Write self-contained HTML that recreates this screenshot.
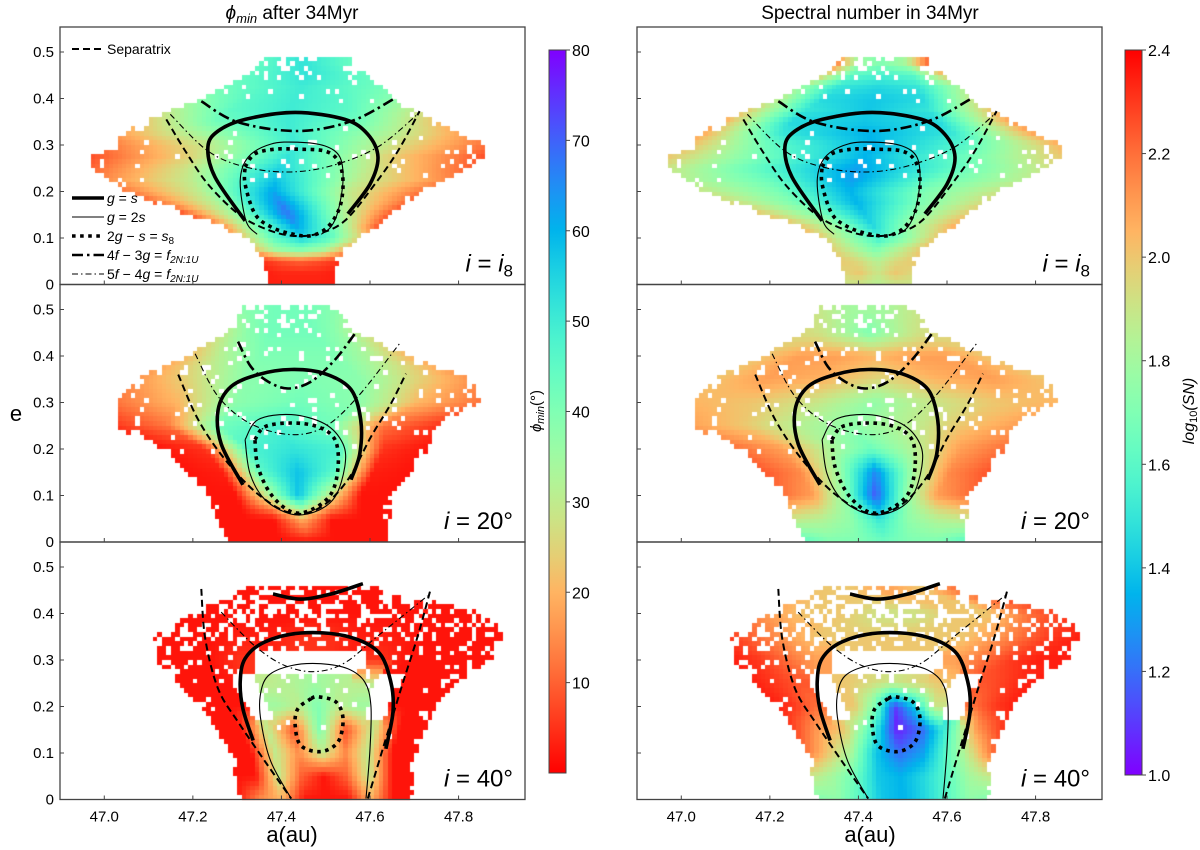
<!DOCTYPE html>
<html><head><meta charset="utf-8">
<style>
html,body{margin:0;padding:0;background:#fff;}
#wrap{position:relative;width:1200px;height:850px;overflow:hidden;font-family:"Liberation Sans","DejaVu Sans",sans-serif;}
#heat{position:absolute;left:0;top:0;}
#ov{position:absolute;left:0;top:0;}
</style></head>
<body>
<div id="wrap">
<canvas id="heat" width="1200" height="850"></canvas>
<svg id="ov" width="1200" height="850" xmlns="http://www.w3.org/2000/svg"></svg>
</div>
<script>
// ---------- data: envelopes (e rows, aMin, aMax) ----------
const eTop = [0,0.025,0.05,0.075,0.1,0.125,0.15,0.175,0.2,0.225,0.25,0.275,0.3,0.325,0.35,0.375,0.4,0.425,0.45,0.475];
const aMinTop = [47.362,47.362,47.357,47.333,47.318,47.251,47.183,47.110,47.047,47.005,46.970,46.970,47.008,47.040,47.083,47.146,47.212,47.263,47.318,47.345];
const aMaxTop = [47.523,47.523,47.527,47.544,47.577,47.615,47.647,47.685,47.714,47.767,47.821,47.861,47.858,47.802,47.746,47.697,47.656,47.626,47.595,47.556];
const densTop = [1,1,1,1,1,1,1,1,1,0.95,0.9,0.85,0.9,0.95,1,1,0.95,0.85,0.65,0.35];
const phiTop = [[3,3,3,3,3],[3,4,4,4,3],[5,8,10,8,5],[20,35,40,35,20],[25,45,55,45,25],[10,40,62,40,10],[8,35,68,35,8],[10,32,66,32,10],[12,30,62,30,12],[15,30,58,30,15],[10,28,55,28,10],[8,25,52,25,8],[12,28,50,28,12],[18,35,50,35,18],[22,42,50,42,22],[30,45,50,45,30],[38,46,50,46,38],[42,46,50,46,42],[44,48,52,48,44],[44,48,52,48,44]];
const snTop = [[1.9,1.9,1.85,1.9,1.9],[1.95,2.0,1.9,2.0,1.95],[2.0,1.95,1.85,1.95,2.0],[2.0,1.85,1.7,1.85,2.0],[2.0,1.75,1.55,1.75,2.0],[2.05,1.8,1.45,1.8,2.05],[2.0,1.75,1.4,1.75,2.0],[1.95,1.7,1.35,1.7,1.95],[1.9,1.7,1.35,1.7,1.9],[1.85,1.65,1.3,1.65,1.85],[1.9,1.6,1.3,1.6,1.9],[2.0,1.65,1.35,1.65,2.0],[2.05,1.6,1.35,1.6,2.05],[2.1,1.5,1.35,1.5,2.1],[2.1,1.45,1.4,1.45,2.1],[2.0,1.5,1.4,1.5,2.0],[1.9,1.45,1.4,1.45,1.9],[1.8,1.5,1.45,1.5,1.8],[2.0,1.6,1.55,1.6,2.0],[2.2,1.8,1.7,1.8,2.2]];

const eMid = [0,0.05,0.1,0.15,0.2,0.25,0.3,0.35,0.4,0.45,0.5];
const aMinMid = [47.273,47.250,47.228,47.183,47.128,47.016,47.025,47.061,47.183,47.273,47.307];
const aMaxMid = [47.640,47.645,47.647,47.692,47.730,47.753,47.848,47.836,47.690,47.573,47.532];
const densMid = [1,1,1,1,0.97,0.8,0.8,0.85,0.85,0.7,0.3];
const phiMid = [[2,2,2,2,2,2,2],[2,2,2,20,2,2,2],[2,2,30,58,30,2,2],[2,3,45,58,45,3,2],[2,5,48,52,48,5,2],[5,12,42,48,42,12,5],[12,20,38,42,38,20,12],[15,25,38,40,38,25,15],[20,32,40,40,40,32,20],[30,38,42,42,42,38,30],[38,40,42,42,42,40,38]];
const snMid = [[1.6,1.7,1.7,1.65,1.7,1.7,1.6],[1.9,1.85,1.75,1.5,1.75,1.85,1.9],[2.2,2.1,1.75,1.15,1.75,2.1,2.2],[2.25,2.15,1.8,1.25,1.8,2.15,2.25],[2.2,2.1,1.85,1.65,1.85,2.1,2.2],[2.1,2.0,1.85,1.75,1.85,2.0,2.1],[2.05,2.0,1.9,1.75,1.9,2.0,2.05],[2.0,2.1,2.05,1.95,2.05,2.1,2.0],[2.0,2.1,2.1,2.05,2.1,2.1,2.0],[1.95,1.9,1.8,1.7,1.8,1.9,1.95],[1.9,1.85,1.8,1.8,1.8,1.85,1.9]];

const eBot = [0,0.05,0.1,0.15,0.2,0.25,0.3,0.35,0.4,0.45];
const aMinBot = [47.302,47.291,47.280,47.250,47.212,47.160,47.115,47.106,47.196,47.307];
const aMaxBot = [47.701,47.701,47.703,47.724,47.753,47.791,47.872,47.904,47.872,47.622];
const densBot = [1,1,1,0.97,0.92,0.85,0.7,0.55,0.35,0.2];
const phiBot = [[2,15,20,2,2,2,20,2,2],[2,2,30,10,2,10,30,2,2],[2,2,30,15,30,15,30,2,2],[2,2,30,8,40,8,30,2,2],[2,2,2,-1,35,30,40,30,35,-1,2,2,2],[2,2,2,-1,30,32,35,32,30,-1,2,2,2],[2,2,2,5,-1,-1,-1,-1,5,2,2,2,2],[2,2,2,3,3,5,5,3,3,2,2,2,2],[2,2,2,2,2,2,2,2,2],[2,2,2,2,2]];
const snBot = [[1.7,1.75,1.6,1.4,1.35,1.45,1.6,1.75,1.7],[1.9,1.8,1.65,1.4,1.35,1.45,1.6,1.8,1.9],[2.2,2.0,1.8,1.4,1.2,1.3,1.6,1.9,2.2],[2.3,2.1,2.0,1.6,1.05,1.2,1.6,2.1,2.3],[2.35,2.3,2.2,-1,2.0,1.7,1.1,1.4,1.9,-1,2.2,2.3,2.35],[2.35,2.3,2.25,-1,2.0,1.95,1.9,1.95,2.0,-1,2.25,2.3,2.35],[2.35,2.3,2.2,2.1,-1,-1,-1,-1,2.1,2.2,2.3,2.35,2.35],[2.3,2.2,2.1,2.0,2.0,2.0,2.0,2.0,2.0,2.1,2.2,2.3,2.35],[2.1,2.0,2.0,1.9,1.9,2.0,2.0,2.2,2.3],[2.0,2.0,2.1,2.0,2.2]];

// ---------- data: resonance curves ----------
const topGsA=[47.318,47.250,47.234,47.257,47.318,47.431,47.543,47.595,47.618,47.600,47.550];
const topGsE=[0.137,0.231,0.296,0.330,0.355,0.370,0.355,0.323,0.274,0.216,0.152];
const topG2sA=[47.345,47.320,47.307,47.325,47.376,47.437,47.498,47.532,47.539,47.528,47.512,47.490];
const topG2sE=[0.108,0.137,0.223,0.274,0.302,0.306,0.298,0.274,0.223,0.158,0.124,0.108];
const topDotA=[47.318,47.340,47.385,47.437,47.498,47.528,47.539,47.532,47.505,47.467,47.422,47.376,47.340,47.318,47.318];
const topDotE=[0.253,0.281,0.291,0.291,0.287,0.266,0.223,0.167,0.124,0.105,0.109,0.124,0.152,0.216,0.253];
const topSepA=[47.140,47.183,47.234,47.302,47.363,47.422,47.482,47.543,47.611,47.663,47.712];
const topSepE=[0.355,0.287,0.216,0.152,0.120,0.105,0.109,0.137,0.216,0.287,0.373];
const top4fA=[47.219,47.302,47.437,47.557,47.652];
const top4fE=[0.394,0.349,0.330,0.351,0.398];
const top5fA=[47.149,47.234,47.318,47.415,47.512,47.618,47.712];
const top5fE=[0.366,0.287,0.253,0.242,0.255,0.296,0.370];

const midGsA=[47.313,47.264,47.257,47.286,47.347,47.422,47.498,47.557,47.579,47.577,47.557];
const midGsE=[0.123,0.211,0.284,0.334,0.360,0.371,0.362,0.328,0.263,0.190,0.134];
const midG2sA=[47.318,47.347,47.422,47.498,47.539,47.543,47.521,47.476,47.422,47.363,47.329,47.318];
const midG2sE=[0.220,0.263,0.274,0.254,0.211,0.162,0.097,0.065,0.060,0.091,0.147,0.220];
const midDotA=[47.340,47.363,47.422,47.482,47.521,47.528,47.512,47.467,47.422,47.376,47.347,47.340];
const midDotE=[0.220,0.248,0.256,0.248,0.220,0.162,0.103,0.069,0.065,0.103,0.162,0.220];
const midSepA=[47.167,47.212,47.273,47.347,47.422,47.489,47.550,47.602,47.647,47.681];
const midSepE=[0.360,0.263,0.177,0.103,0.062,0.075,0.134,0.226,0.297,0.362];
const mid4fA=[47.302,47.331,47.370,47.415,47.467,47.521,47.566];
const mid4fE=[0.431,0.377,0.345,0.330,0.345,0.392,0.448];
const mid5fA=[47.205,47.257,47.331,47.422,47.498,47.573,47.667];
const mid5fE=[0.405,0.313,0.254,0.231,0.248,0.313,0.427];

const botArcA=[47.381,47.444,47.512,47.584];
const botArcE=[0.442,0.431,0.442,0.464];
const botGsA=[47.336,47.313,47.307,47.318,47.363,47.444,47.543,47.618,47.647,47.652,47.636];
const botGsE=[0.127,0.195,0.253,0.303,0.339,0.358,0.352,0.318,0.253,0.189,0.109];
const botG2sA=[47.422,47.376,47.354,47.352,47.370,47.422,47.489,47.550,47.588,47.602,47.600,47.591];
const botG2sE=[0.002,0.082,0.167,0.223,0.266,0.288,0.292,0.281,0.253,0.202,0.109,0.002];
const botDotA=[47.467,47.437,47.431,47.444,47.489,47.528,47.539,47.523,47.482,47.467];
const botDotE=[0.217,0.195,0.159,0.116,0.103,0.124,0.174,0.210,0.221,0.217];
const botSepLA=[47.219,47.228,47.257,47.302,47.363,47.422];
const botSepLE=[0.453,0.345,0.238,0.167,0.082,0.002];
const botSepRA=[47.595,47.629,47.670,47.708,47.737];
const botSepRE=[0.002,0.109,0.238,0.352,0.453];
const bot5fA=[47.264,47.340,47.408,47.476,47.543,47.618,47.730];
const bot5fE=[0.403,0.330,0.288,0.275,0.294,0.352,0.438];

// ---------- ticks ----------
const xTicks=[47.0,47.2,47.4,47.6,47.8];
const xTickLabels=["47.0","47.2","47.4","47.6","47.8"];
const yTicks=[0,0.1,0.2,0.3,0.4,0.5];
const yTickLabels=["0","0.1","0.2","0.3","0.4","0.5"];
const phiTicks=[10,20,30,40,50,60,70,80];
const snTicks=[1.0,1.2,1.4,1.6,1.8,2.0,2.2,2.4];
const snTickLabels=["1.0","1.2","1.4","1.6","1.8","2.0","2.2","2.4"];

// ---------- geometry ----------
const colX=[60,637], PW=465, rowY=[27,284.5,542], PH=257.5;
const AMIN=46.9, AMAX=47.95, PXE=465;
function sx(c,a){return colX[c]+(a-AMIN)/(AMAX-AMIN)*PW;}
function sy(r,e){return rowY[r]+PH-e*PXE;}

function rainbow(t){t=Math.max(0,Math.min(1,t));
  const r=Math.min(1,Math.abs(2*t-0.5)), g=Math.sin(Math.PI*t), b=Math.cos(Math.PI*t/2);
  return 'rgb('+Math.round(r*255)+','+Math.round(g*255)+','+Math.round(Math.max(0,b)*255)+')';}
function colPhi(v){return rainbow(1-v/80);}
function colSN(v){return rainbow((v-1.0)/1.4);}

function rowVal(arr,p){const n=arr.length;const q=p*(n-1);let i=Math.floor(q);if(i>=n-1)i=n-2;if(i<0)i=0;const f=q-i;
  const v0=arr[i],v1=arr[i+1];
  if(v0<0||v1<0){const nv=f<0.5?v0:v1;return nv<0?null:nv;}
  return v0+(v1-v0)*f;}
function pat(ix,iy){let h=(ix*374761393+iy*668265263)>>>0;h=((h^(h>>>13))*1274126177)>>>0;return ((h^(h>>>16))%1000)/1000;}

const ctx=document.getElementById('heat').getContext('2d');
function drawHeat(c,r,eR,aMn,aMx,dens,vals,cf){
  const last=eR.length-1;
  for(let iy=0;;iy++){
    const e=0.005+iy*0.01; if(e>eR[last]+0.012)break;
    let k=0;while(k<last-1&&eR[k+1]<e)k++;
    let fe=(e-eR[k])/(eR[k+1]-eR[k]);if(fe>1)fe=1;if(fe<0)fe=0;
    const lo=aMn[k]+(aMn[k+1]-aMn[k])*fe, hi=aMx[k]+(aMx[k+1]-aMx[k])*fe;
    const dn=dens[k]+(dens[k+1]-dens[k])*fe;
    for(let ix=Math.ceil(lo*100);;ix++){
      const a=ix/100+0.005; if(a>hi)break;
      const p=(a-lo)/(hi-lo);
      // thin out near edges of envelope too
      const edge=Math.min(p,1-p);
      const dd=dn*(edge<0.04?0.6:1);
      if(pat(ix,iy)>dd)continue;
      const v0=rowVal(vals[k],p), v1=rowVal(vals[k+1],p);
      let v;
      if(v0===null||v1===null){v=fe<0.5?v0:v1;if(v===null)continue;}
      else v=v0+(v1-v0)*fe;
      const x0=Math.round(sx(c,a-0.005)),x1=Math.round(sx(c,a+0.005));
      const y0=Math.round(sy(r,e+0.005)),y1=Math.round(sy(r,e-0.005));
      if(y0<rowY[r])continue;
      ctx.fillStyle=cf(v);ctx.fillRect(x0,y0,x1-x0,y1-y0);
    }
  }
}
drawHeat(0,0,eTop,aMinTop,aMaxTop,densTop,phiTop,colPhi);
drawHeat(1,0,eTop,aMinTop,aMaxTop,densTop,snTop,colSN);
drawHeat(0,1,eMid,aMinMid,aMaxMid,densMid,phiMid,colPhi);
drawHeat(1,1,eMid,aMinMid,aMaxMid,densMid,snMid,colSN);
drawHeat(0,2,eBot,aMinBot,aMaxBot,densBot,phiBot,colPhi);
drawHeat(1,2,eBot,aMinBot,aMaxBot,densBot,snBot,colSN);

// ---------- SVG overlay ----------
const svg=document.getElementById('ov');
const NS='http://www.w3.org/2000/svg';
function mk(tag,at,parent){const el=document.createElementNS(NS,tag);for(const k in at)el.setAttribute(k,at[k]);(parent||svg).appendChild(el);return el;}
let defs=mk('defs',{});
for(let c=0;c<2;c++)for(let r=0;r<3;r++){const cp=mk('clipPath',{id:'cp'+c+r},defs);mk('rect',{x:colX[c],y:rowY[r],width:PW,height:PH},cp);}

const styles={
 gs:{w:3.6,d:''}, g2s:{w:1.1,d:''}, dot:{w:3.6,d:'3.6,4.5'}, sep:{w:2,d:'7,4'}, f4:{w:2.6,d:'11,4,2.5,4'}, f5:{w:1.1,d:'6,3,1.5,3'}
};
function curve(c,r,A,E,st,name){
  let pts=A.map((a,i)=>[sx(c,a),sy(r,E[i])]);
  let s='M'+pts[0][0].toFixed(1)+','+pts[0][1].toFixed(1);
  for(let i=0;i<pts.length-1;i++){const p0=pts[i-1]||pts[i],p1=pts[i],p2=pts[i+1],p3=pts[i+2]||p2;
    const c1=[p1[0]+(p2[0]-p0[0])/6,p1[1]+(p2[1]-p0[1])/6],c2=[p2[0]-(p3[0]-p1[0])/6,p2[1]-(p3[1]-p1[1])/6];
    s+=' C'+c1[0].toFixed(1)+','+c1[1].toFixed(1)+' '+c2[0].toFixed(1)+','+c2[1].toFixed(1)+' '+p2[0].toFixed(1)+','+p2[1].toFixed(1);}
  const el=mk('path',{d:s,fill:'none',stroke:'#000','stroke-width':styles[st].w,'stroke-dasharray':styles[st].d,'clip-path':'url(#cp'+c+r+')'});
  
  
}
for(let c=0;c<2;c++){
  const side=c?'right':'left';
  curve(c,0,topSepA,topSepE,'sep',side+'-top-separatrix');
  curve(c,0,top5fA,top5fE,'f5',side+'-top-5f-4g');
  curve(c,0,top4fA,top4fE,'f4',side+'-top-4f-3g');
  curve(c,0,topG2sA,topG2sE,'g2s',side+'-top-g-2s');
  curve(c,0,topDotA,topDotE,'dot',side+'-top-2g-s');
  curve(c,0,topGsA,topGsE,'gs',side+'-top-g-s');
  curve(c,1,midSepA,midSepE,'sep',side+'-mid-separatrix');
  curve(c,1,mid5fA,mid5fE,'f5',side+'-mid-5f-4g');
  curve(c,1,mid4fA,mid4fE,'f4',side+'-mid-4f-3g');
  curve(c,1,midG2sA,midG2sE,'g2s',side+'-mid-g-2s');
  curve(c,1,midDotA,midDotE,'dot',side+'-mid-2g-s');
  curve(c,1,midGsA,midGsE,'gs',side+'-mid-g-s');
  curve(c,2,botSepLA,botSepLE,'sep',side+'-bottom-separatrix-left');
  curve(c,2,botSepRA,botSepRE,'sep',side+'-bottom-separatrix-right');
  curve(c,2,bot5fA,bot5fE,'f5',side+'-bottom-5f-4g');
  curve(c,2,botG2sA,botG2sE,'g2s',side+'-bottom-g-2s');
  curve(c,2,botDotA,botDotE,'dot',side+'-bottom-2g-s');
  curve(c,2,botGsA,botGsE,'gs',side+'-bottom-g-s');
  curve(c,2,botArcA,botArcE,'gs',side+'-bottom-g-s-upper');
}

// axes frames & ticks
const fs='font-family:"Liberation Sans","DejaVu Sans",sans-serif;';
for(let c=0;c<2;c++)for(let r=0;r<3;r++){
  const fr=mk('rect',{x:colX[c],y:rowY[r],width:PW,height:PH,fill:'none',stroke:'#444','stroke-width':1.3});
  
  
  yTicks.forEach((v,i)=>{const y=sy(r,v);if(y<rowY[r]+1)return;
    mk('line',{x1:colX[c],x2:colX[c]+4,y1:y,y2:y,stroke:'#444','stroke-width':1});
    if(c===0){const t=mk('text',{x:colX[c]-6,y:y+5,'text-anchor':'end','font-size':15,style:fs});t.textContent=yTickLabels[i];
      
      }
  });
  xTicks.forEach((v,i)=>{const x=sx(c,v);
    mk('line',{x1:x,x2:x,y1:rowY[r]+PH,y2:rowY[r]+PH-4,stroke:'#444','stroke-width':1});
    if(r===2){const t=mk('text',{x:x,y:rowY[r]+PH+22,'text-anchor':'middle','font-size':15,style:fs});t.textContent=xTickLabels[i];
      
      }
  });
}
// panel labels
const panelLbl=['i8','20°','40°'];
for(let c=0;c<2;c++)for(let r=0;r<3;r++){
  const t=mk('text',{x:colX[c]+PW-12,y:rowY[r]+PH-13,'text-anchor':'end','font-size':24,style:fs});
  if(r===0){t.innerHTML='<tspan font-style="italic">i</tspan> = <tspan font-style="italic">i</tspan><tspan font-size="17" dy="5">8</tspan>';}
  else{t.innerHTML='<tspan font-style="italic">i</tspan> = '+panelLbl[r];}
  
  
}
// colorbars
function cbar(x,top,bot,cf,vmin,vmax,ticks,labels,name){
  const g=mk('linearGradient',{id:name+'g',x1:0,y1:1,x2:0,y2:0},defs);
  for(let i=0;i<=20;i++){mk('stop',{offset:i/20,'stop-color':cf(vmin+(vmax-vmin)*i/20)},g);}
  const rc=mk('rect',{x:x,y:top,width:17,height:bot-top,fill:'url(#'+name+'g)',stroke:'#444','stroke-width':1});
  
  
  ticks.forEach((v,i)=>{const y=bot-(v-vmin)/(vmax-vmin)*(bot-top);
    mk('line',{x1:x+17,x2:x+21,y1:y,y2:y,stroke:'#444'});
    const t=mk('text',{x:x+23,y:y+6,'font-size':16,style:fs});t.textContent=labels[i];
    
    });
}
cbar(549,50,773,colPhi,0,80,phiTicks,phiTicks.map(String),'phi-colorbar');
cbar(1125,50,775,colSN,1.0,2.4,snTicks,snTickLabels,'sn-colorbar');

// titles & labels
function txt(x,y,html,size,name,extra){const t=mk('text',Object.assign({x:x,y:y,'text-anchor':'middle','font-size':size,style:fs},extra||{}));t.innerHTML=html;
  
  return t;}
txt(292,19,'<tspan font-style="italic">ϕ</tspan><tspan font-style="italic" font-size="13" dy="4">min</tspan><tspan dy="-4"> after 34Myr</tspan>',19,'left-title');
txt(870,19,'Spectral number in 34Myr',19,'right-title');
txt(292,842,'a(au)',22,'left-x-axis-title');
txt(870,842,'a(au)',22,'right-x-axis-title');
txt(16,421,'e',22,'y-axis-title');
txt(0,0,'<tspan font-style="italic">ϕ</tspan><tspan font-style="italic" font-size="11" dy="3">min</tspan><tspan dy="-3">(°)</tspan>',15,'phi-colorbar-title',{transform:'translate(541,411) rotate(-90)'});
txt(0,0,'<tspan font-style="italic">log</tspan><tspan font-size="11" dy="3">10</tspan><tspan dy="-3" font-style="italic">(SN)</tspan>',16,'sn-colorbar-title',{transform:'translate(1194,411) rotate(-90)'});

// legend
function legLine(y,st,html,name){
  const l=mk('line',{x1:72,x2:104,y1:y,y2:y,stroke:'#000','stroke-width':styles[st].w,'stroke-dasharray':styles[st].d});
  
  
  const t=mk('text',{x:107,y:y+5,'font-size':14,style:fs});t.innerHTML=html;
  
  
}
legLine(49,'sep','Separatrix','legend-separatrix');
legLine(198,'gs','<tspan font-style="italic">g</tspan> = <tspan font-style="italic">s</tspan>','legend-g-s');
legLine(217,'g2s','<tspan font-style="italic">g</tspan> = 2<tspan font-style="italic">s</tspan>','legend-g-2s');
legLine(236,'dot','2<tspan font-style="italic">g</tspan> − <tspan font-style="italic">s</tspan> = <tspan font-style="italic">s</tspan><tspan font-size="10" dy="3">8</tspan>','legend-2g-s');
legLine(255,'f4','4<tspan font-style="italic">f</tspan> − 3<tspan font-style="italic">g</tspan> = <tspan font-style="italic">f</tspan><tspan font-size="10" dy="3" font-style="italic">2N:1U</tspan>','legend-4f-3g');
legLine(274,'f5','5<tspan font-style="italic">f</tspan> − 4<tspan font-style="italic">g</tspan> = <tspan font-style="italic">f</tspan><tspan font-size="10" dy="3" font-style="italic">2N:1U</tspan>','legend-5f-4g');
</script>
</body></html>
